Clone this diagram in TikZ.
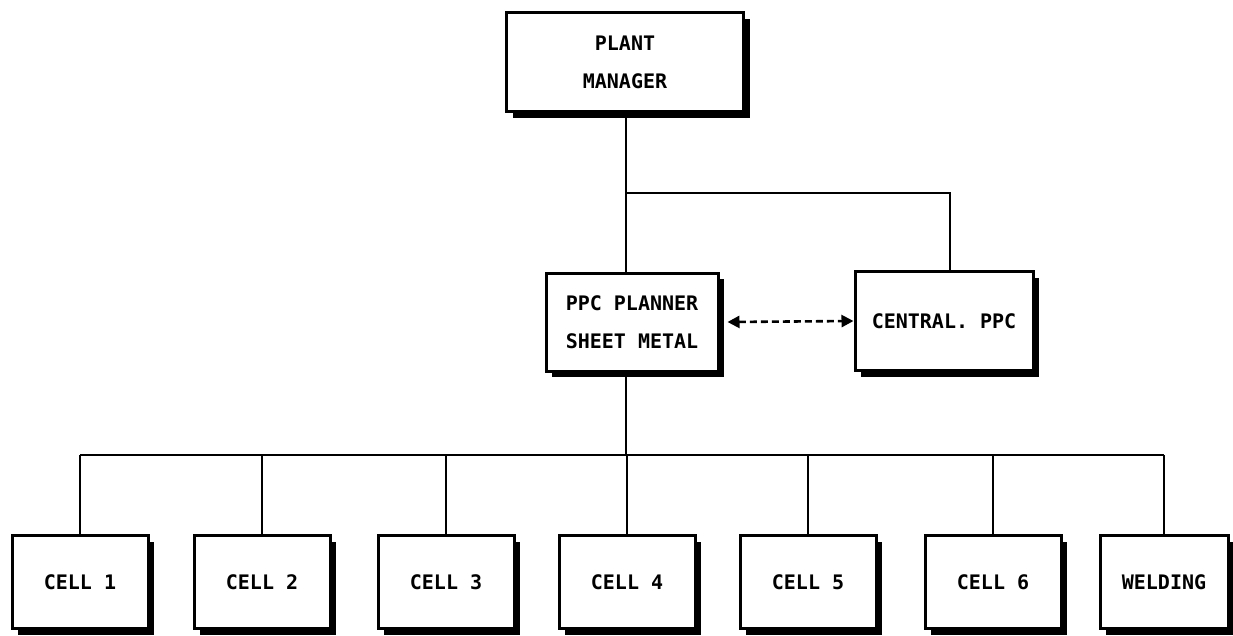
\documentclass[tikz,border=0pt]{standalone}
\usepackage{fontspec}
\setmonofont{DejaVu Sans Mono}
\usepackage{tikz}
\usetikzlibrary{shadows,arrows.meta}

\begin{document}
\begin{tikzpicture}[x=1pt,y=-1pt,line width=2.6pt,
  box/.style={draw,fill=white,line width=3pt,rectangle,align=center,
    font=\ttfamily\bfseries\fontsize{20}{38}\selectfont,
    drop shadow={shadow xshift=6pt,shadow yshift=-6pt,fill=black,opacity=1}},
  cell/.style={box,minimum width=#1,minimum height=93pt},
  arr/.style={dash pattern=on 7pt off 4pt,{Triangle[length=12pt,width=12pt]}-{Triangle[length=12pt,width=12pt]}}]
\useasboundingbox (0,0) rectangle (1233,635);
\fill[white] (0,0) rectangle (1233,635);
\node[box,minimum width=237pt,minimum height=99pt](pm) at (625,62) {PLANT\\MANAGER};
\node[box,minimum width=172pt,minimum height=98pt](ppc) at (632,322) {PPC PLANNER\\SHEET METAL};
\node[box,minimum width=178pt,minimum height=99pt](cppc) at (944,321) {CENTRAL. PPC};
\coordinate (br) at (626,193);
\coordinate (bus) at (626,455);
\draw (pm.south -| br) -- (ppc.north -| br);
\draw (br) -| (cppc.north -| 950,0);
\draw[arr] ([xshift=8pt]ppc.east) -- (cppc.west);
\foreach \x/\w/\1 in %
{80/136/CELL 1,262/136/CELL 2,446/136/CELL 3,627/136/CELL 4,808/136/CELL 5,993/136/CELL 6,1164/128/WELDING} {
   \node[cell=\w pt](c\x) at (\x,582) {\1};
   \draw (bus -| c\x.north) -- (c\x.north);
}
\draw (ppc.south -| bus) -- (bus);
\draw (bus -| c80.north) -- (bus -| c1164.north);
\end{tikzpicture}
\end{document}
